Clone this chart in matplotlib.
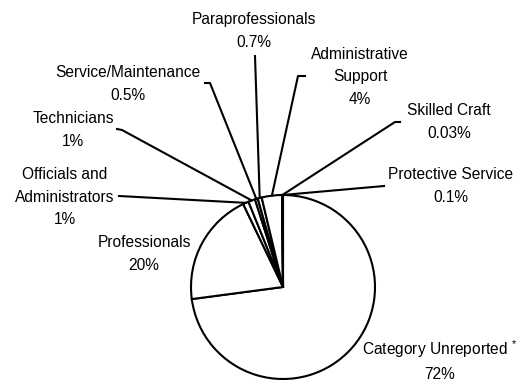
import matplotlib.pyplot as plt
import numpy as np

plt.rcParams['font.family'] = ['Liberation Sans', 'DejaVu Sans']
plt.rcParams['mathtext.fontset'] = 'custom'
plt.rcParams['mathtext.rm'] = 'Liberation Sans'

categories = ['Category Unreported $^{*}$', 'Professionals',
              'Officials and\nAdministrators', 'Technicians',
              'Service/Maintenance', 'Paraprofessionals',
              'Administrative\nSupport', 'Skilled Craft', 'Protective Service']
shares = [73.0, 20.0, 1.0, 1.2, 0.5, 0.7, 3.6, 0.03, 0.1]
pct_labels = ['72%', '20%', '1%', '1%', '0.5%', '0.7%', '4%', '0.03%', '0.1%']

# label centres (pixels, y down) and leader-line start points
label_pos = [(440, 360), (144, 254), (65, 197), (73, 130), (128, 84),
             (254, 31), (360, 77), (449, 122), (451, 186)]
leaders = [None, None, [(119, 196)], [(117, 129), (122, 130)],
           [(205, 83), (210, 83)], [(255, 56)], [(305, 76), (298, 76)],
           [(400, 122), (395, 122)], [(384, 186)]]

fig = plt.figure(figsize=(5.2, 3.84), dpi=100)
ax = fig.add_axes([0, 0, 1, 1])
cx, cy, r = 283, 287, 92
wedges, _ = ax.pie(shares, center=(cx, cy), radius=r, startangle=-90,
                   counterclock=True,
                   wedgeprops=dict(facecolor='white', edgecolor='black',
                                   linewidth=1.5))
ax.set_xlim(0, 520)
ax.set_ylim(384, 0)
ax.set_aspect('equal')
ax.axis('off')

for w, name, pct, (tx, ty), lead in zip(wedges, categories, pct_labels,
                                        label_pos, leaders):
    ax.text(tx, ty, name + '\n' + pct, ha='center', va='center',
            fontsize=11.2, linespacing=1.62)
    if lead:
        mid = np.deg2rad((w.theta1 + w.theta2) / 2)
        pts = lead + [(cx + r * np.cos(mid), cy + r * np.sin(mid))]
        xs, ys = zip(*pts)
        ax.plot(xs, ys, color='black', lw=1.5)

fig.savefig('out.png', dpi=100)
